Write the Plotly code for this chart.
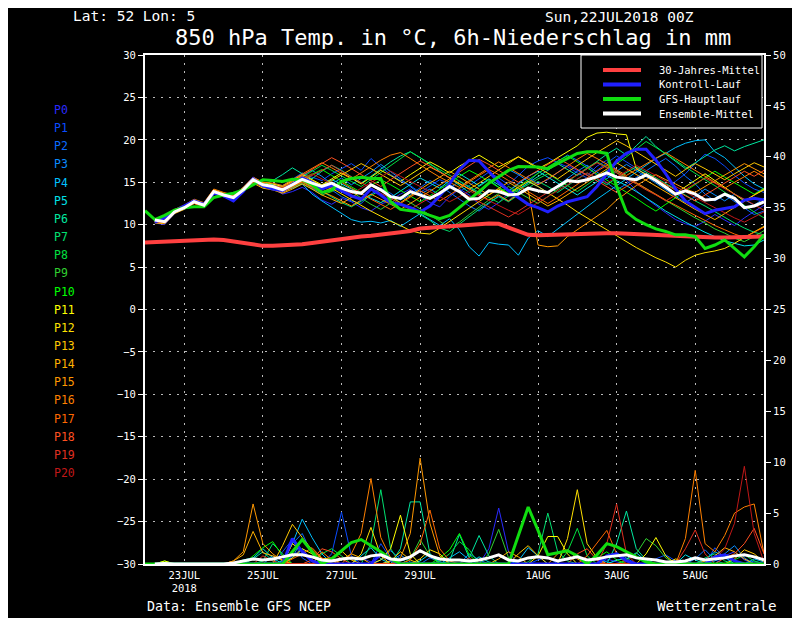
import pandas as pd
import plotly.graph_objects as go

"""
GFS ensemble plume, 850 hPa temperature + 6h precipitation, Lat 52 Lon 5, run 22JUL2018 00Z
"""

# time axis: GFS main run + climate start at 0h, ensemble members start at +6h
t_all = pd.date_range('2018-07-22 00:00', periods=64, freq='6h')
t_ens = t_all[1:]

member_names = ['P%d' % k for k in range(21)]
member_colors = ['#2a2aff', '#0a4cff', '#0a6cff', '#0a8cff', '#00c0ff', '#00e0e8', '#00e8a0',
                 '#00e070', '#00e040', '#30d030', '#00ff00', '#ffff00', '#ffe000', '#ffc800',
                 '#ffb000', '#ff9800', '#ff8000', '#ff6800', '#ff5020', '#e03020', '#c01818']

# 30-Jahres-Mittel (0h..378h)
clim_temp = [7.9, 7.95, 8.0, 8.05, 8.15, 8.2, 8.25, 8.25, 8.2, 8.0,
             7.8, 7.6, 7.5, 7.5, 7.55, 7.6, 7.7, 7.85, 8.0, 8.2,
             8.4, 8.5, 8.6, 8.7, 8.8, 8.95, 9.1, 9.25, 9.55, 9.65,
             9.75, 9.8, 9.9, 10.0, 10.1, 10.15, 10.1, 9.7, 9.2, 8.8,
             8.75, 8.8, 8.85, 8.9, 8.95, 9.0, 9.0, 9.0, 9.0, 8.95,
             8.9, 8.85, 8.8, 8.7, 8.6, 8.55, 8.5, 8.5, 8.5, 8.5,
             8.5, 8.55, 8.6, 8.6]

# GFS-Hauptlauf (0h..378h)
gfs_temp = [11.65, 10.6, 11.1, 11.7, 12.0, 12.1, 12.1, 13.2, 13.5, 13.7,
            14.1, 14.7, 15.3, 15.2, 15.1, 15.35, 15.3, 14.7, 13.8, 14.1,
            15.1, 15.45, 15.6, 15.45, 15.45, 12.7, 11.8, 11.65, 11.5, 11.1,
            10.7, 11.1, 12.0, 12.9, 13.9, 14.9, 15.6, 16.4, 16.85, 16.85,
            16.8, 16.6, 17.2, 17.8, 18.4, 18.6, 18.6, 18.4, 14.5, 11.5,
            10.6, 10.0, 9.5, 9.2, 8.8, 8.8, 8.6, 7.2, 7.6, 8.2,
            7.2, 6.2, 7.4, 8.8]
gfs_prec = [0, 0, 0, 0, 0, 0, 0, 0, 0, 0,
            0, 0, 0, 0, 0, 1.2, 2.4, 1.2, 0, 0.5,
            1.3, 2.1, 2.4, 1.8, 1.2, 0.5, 0, 0, 0, 0,
            0, 0, 0, 0, 0, 0, 0, 0, 2.8, 5.6,
            3.3, 0.9, 1.1, 1.3, 0.8, 0, 0.9, 2.0, 1.7, 1.2,
            0.7, 0.2, 0, 0, 0, 0, 0, 0, 0, 0,
            0, 0, 0, 0]

# Kontroll-Lauf (6h..378h)
ctrl_temp = [10.3, 10.8, 11.6, 12.2, 12.8, 12.4, 13.7, 13.4, 12.8, 13.9,
             15.4, 14.6, 14.2, 14.0, 14.8, 15.5, 15.0, 14.2, 14.6, 14.0,
             13.4, 13.0, 14.2, 13.5, 12.6, 12.4, 12.0, 11.5, 12.2, 13.4,
             14.8, 16.5, 17.6, 17.5, 16.2, 15.0, 14.0, 13.2, 12.4, 12.0,
             11.5, 12.2, 12.7, 13.0, 13.3, 14.5, 16.0, 17.5, 18.4, 18.9,
             18.9, 17.6, 16.0, 14.2, 12.8, 12.0, 11.3, 11.7, 11.9, 12.1,
             12.9, 13.1, 12.9]
ctrl_prec = [0, 0, 0, 0, 0, 0, 0, 0, 0, 0,
             0, 0, 0, 0, 2.5, 1.2, 0.3, 0, 0, 0,
             0, 0, 0, 1.0, 0.4, 0, 0, 0, 0, 0,
             0, 0, 0, 0, 0, 0, 0, 0, 0, 0,
             0, 0, 0, 0, 0, 0, 0.8, 1.0, 0.3, 0,
             0, 0, 0, 0, 0, 0, 0, 0.7, 0.9, 0.3,
             0, 0, 0]

# Ensemble-Mittel (6h..378h)
mean_temp = [10.55, 10.35, 11.5, 12.0, 12.7, 12.3, 13.9, 13.5, 13.2, 14.1,
             15.3, 14.7, 14.5, 14.1, 14.7, 15.35, 14.9, 14.5, 14.9, 14.3,
             13.9, 13.7, 14.7, 14.1, 13.3, 13.1, 13.9, 13.5, 13.1, 13.7,
             14.5, 13.9, 13.0, 13.1, 14.0, 13.9, 13.5, 13.6, 14.3, 14.0,
             13.8, 14.5, 15.2, 15.05, 15.3, 15.65, 16.1, 15.6, 15.45, 15.3,
             15.85, 15.2, 14.4, 13.6, 14.0, 13.6, 12.9, 13.0, 13.6, 13.1,
             12.0, 12.2, 12.7]
mean_prec = [0, 0.05, 0, 0, 0, 0, 0, 0, 0.1, 0.3,
             0.5, 0.4, 0.5, 0.7, 0.9, 0.9, 0.7, 0.4, 0.3, 0.5,
             0.6, 0.5, 0.8, 0.9, 0.5, 0.4, 0.7, 1.3, 0.8, 0.5,
             0.4, 0.4, 0.3, 0.4, 0.6, 0.9, 0.4, 0.3, 0.6, 0.7,
             0.6, 0.3, 0.5, 0.7, 0.4, 0.5, 0.7, 0.8, 0.9, 0.6,
             0.5, 0.4, 0.2, 0.2, 0.3, 0.6, 0.4, 0.5, 0.6, 0.8,
             0.9, 0.7, 0.4]

# perturbed members P0..P20, 850 hPa temperature (6h..378h)
p0_temp = [10.2, 10.0, 11.3, 12.1, 12.9, 12.2, 13.8, 13.6, 13.5, 14.4,
           15.6, 14.9, 14.3, 13.6, 13.9, 14.4, 13.8, 12.9, 12.4, 13.1,
           12.7, 12.0, 11.6, 12.4, 12.9, 13.6, 14.2, 13.4, 12.6, 12.1,
           13.3, 14.2, 13.5, 12.4, 11.8, 12.6, 13.7, 14.9, 15.6, 14.8,
           15.3, 16.2, 17.0, 16.4, 15.8, 16.9, 17.6, 16.5, 15.2, 14.0,
           13.1, 12.2, 11.4, 10.6, 10.1, 9.8, 10.4, 11.2, 10.5, 9.9,
           10.8, 11.6, 12.3]
p1_temp = [10.4, 10.3, 11.6, 11.9, 12.5, 12.4, 14.1, 13.3, 13.0, 14.0,
           15.1, 14.5, 14.8, 14.6, 15.3, 16.1, 15.6, 15.2, 16.0, 16.6,
           17.2, 16.4, 17.8, 16.8, 15.9, 15.2, 14.6, 13.8, 14.5, 15.3,
           14.8, 13.9, 14.6, 15.4, 16.2, 15.5, 14.7, 15.8, 16.9, 17.5,
           17.9, 17.3, 16.8, 16.1, 15.5, 16.4, 17.2, 18.1, 17.4, 16.6,
           15.9, 15.2, 14.3, 15.1, 16.0, 17.2, 18.3, 17.8, 16.9, 15.8,
           14.9, 14.2, 13.8]
p2_temp = [10.6, 10.5, 11.4, 12.2, 12.8, 12.1, 13.7, 13.7, 13.3, 14.2,
           15.2, 14.4, 14.2, 13.8, 14.5, 15.1, 14.3, 13.7, 14.1, 13.3,
           12.8, 12.5, 13.6, 14.3, 13.7, 12.9, 13.5, 14.4, 15.2, 14.6,
           13.8, 13.1, 12.2, 11.6, 12.5, 13.4, 12.8, 13.9, 15.0, 16.1,
           16.7, 17.4, 18.2, 17.6, 16.9, 15.8, 14.9, 14.1, 14.8, 15.6,
           16.4, 17.1, 17.8, 16.9, 15.7, 14.8, 13.6, 12.8, 13.5, 12.7,
           11.9, 11.2, 11.6]
p3_temp = [10.5, 10.4, 11.7, 12.0, 12.6, 12.5, 14.0, 13.4, 13.1, 14.0,
           15.4, 14.8, 14.6, 14.2, 15.0, 15.8, 16.4, 15.7, 14.8, 15.5,
           14.7, 15.4, 16.2, 17.1, 16.3, 15.4, 14.5, 13.6, 14.2, 13.5,
           14.3, 15.1, 14.4, 13.6, 14.8, 15.7, 16.5, 15.9, 15.1, 14.5,
           13.8, 14.6, 15.5, 16.3, 17.0, 16.2, 15.4, 16.3, 17.1, 16.4,
           15.7, 14.9, 14.1, 13.4, 12.6, 13.3, 14.2, 13.5, 12.8, 13.6,
           12.9, 12.3, 13.1]
p4_temp = [10.7, 10.2, 11.5, 12.1, 12.7, 12.4, 13.9, 13.5, 13.4, 14.3,
           15.5, 14.6, 14.4, 14.0, 14.3, 14.8, 13.6, 12.8, 12.1, 11.4,
           10.6, 10.3, 10.4, 10.2, 10.5, 9.8, 10.6, 11.3, 10.6, 9.9,
           10.7, 9.4, 7.4, 6.3, 7.9, 7.7, 7.6, 6.4, 8.4, 9.3,
           8.6, 9.5, 10.4, 11.2, 12.1, 13.0, 13.8, 14.6, 15.3, 16.2,
           17.0, 17.8, 18.4, 19.1, 19.6, 19.9, 20.0, 18.6, 17.9, 16.8,
           15.7, 14.8, 14.2]
p5_temp = [10.3, 10.4, 11.6, 11.8, 12.6, 12.3, 13.8, 13.4, 13.0, 14.0,
           15.2, 14.8, 14.7, 14.3, 15.1, 15.6, 15.1, 14.6, 15.3, 14.8,
           14.2, 13.7, 13.1, 12.6, 13.2, 14.0, 14.8, 15.5, 14.9, 14.3,
           15.2, 16.0, 15.3, 14.6, 15.4, 14.7, 14.0, 14.8, 15.7, 16.3,
           15.6, 14.9, 14.2, 13.5, 14.3, 15.1, 15.8, 15.2, 14.6, 13.9,
           13.2, 12.4, 11.6, 10.9, 10.3, 9.7, 9.1, 8.6, 8.1, 7.8,
           7.5, 7.6, 8.2]
p6_temp = [10.6, 10.6, 11.4, 12.1, 12.8, 12.4, 14.0, 13.6, 13.3, 14.2,
           15.3, 14.6, 15.2, 15.9, 16.7, 16.0, 15.4, 16.3, 17.0, 16.4,
           15.6, 14.9, 15.7, 16.6, 17.4, 18.1, 18.6, 17.9, 17.2, 16.3,
           15.5, 14.6, 13.8, 14.5, 15.3, 14.4, 13.6, 14.2, 14.9, 15.6,
           16.4, 17.2, 16.5, 15.8, 16.6, 17.5, 18.3, 19.0, 18.2, 19.3,
           20.4, 19.2, 18.3, 17.4, 16.6, 17.3, 18.1, 18.8, 19.3, 18.7,
           19.2, 19.6, 20.0]
p7_temp = [10.4, 10.5, 11.5, 12.0, 12.6, 12.2, 13.8, 13.5, 13.3, 14.1,
           15.1, 14.7, 14.3, 13.9, 14.6, 15.2, 14.6, 13.9, 13.3, 12.6,
           12.1, 12.8, 13.5, 14.1, 13.4, 12.5, 11.8, 11.2, 10.5, 9.6,
           9.2, 10.1, 11.0, 11.8, 12.6, 13.3, 12.7, 13.5, 14.3, 15.1,
           14.5, 13.8, 14.6, 15.4, 16.1, 15.4, 14.7, 15.5, 16.2, 16.8,
           16.2, 15.5, 14.8, 14.1, 13.5, 12.8, 12.2, 11.5, 10.9, 10.2,
           9.6, 9.1, 8.8]
p8_temp = [10.5, 10.3, 11.6, 12.1, 12.7, 12.3, 13.9, 13.6, 13.2, 14.0,
           15.2, 14.6, 14.5, 14.4, 15.0, 15.6, 16.3, 17.0, 16.4, 15.7,
           15.1, 14.5, 15.3, 16.2, 17.0, 17.8, 18.6, 17.9, 17.1, 16.5,
           15.8, 15.1, 14.5, 13.8, 13.2, 12.6, 13.4, 14.1, 14.8, 15.4,
           16.0, 15.3, 14.6, 13.9, 14.7, 15.5, 16.3, 17.2, 18.0, 18.9,
           19.8, 19.1, 18.4, 17.6, 16.8, 16.0, 15.3, 14.6, 13.8, 13.0,
           12.2, 11.5, 10.8]
p9_temp = [10.6, 10.4, 11.4, 11.9, 12.6, 12.4, 13.7, 13.4, 13.1, 14.0,
           15.3, 14.9, 14.6, 14.2, 14.4, 14.9, 14.2, 13.5, 13.9, 14.6,
           13.9, 13.1, 12.4, 11.8, 12.5, 13.3, 12.6, 11.9, 11.2, 10.4,
           9.6, 10.3, 11.2, 12.1, 12.9, 13.7, 14.5, 13.8, 13.1, 12.5,
           13.3, 14.2, 15.0, 15.9, 16.7, 17.4, 16.8, 16.1, 15.5, 14.9,
           14.2, 13.5, 12.8, 12.2, 11.5, 10.8, 10.2, 9.5, 9.0, 8.4,
           8.0, 8.6, 9.3]
p10_temp = [10.5, 10.5, 11.5, 12.0, 12.8, 12.4, 13.9, 13.5, 13.2, 14.2,
            15.4, 14.7, 14.4, 14.0, 14.8, 15.4, 15.9, 16.5, 15.8, 15.1,
            14.4, 13.8, 14.6, 15.3, 14.7, 14.0, 13.3, 12.7, 13.4, 14.2,
            15.0, 15.7, 16.4, 15.8, 15.1, 14.4, 13.7, 14.5, 15.3, 16.0,
            16.8, 17.5, 18.1, 17.4, 16.7, 16.0, 15.2, 14.5, 13.8, 13.1,
            12.3, 11.6, 12.4, 13.2, 14.0, 14.8, 15.6, 16.3, 15.6, 14.9,
            14.2, 13.6, 14.3]
p11_temp = [10.4, 10.6, 11.7, 12.2, 12.9, 12.5, 14.1, 13.7, 13.4, 14.3,
            15.5, 15.0, 14.8, 14.5, 15.2, 15.9, 15.3, 14.7, 15.4, 16.1,
            15.5, 14.8, 15.6, 16.4, 15.8, 15.1, 15.9, 16.7, 17.4, 16.8,
            16.1, 16.9, 17.6, 18.2, 17.5, 16.8, 17.4, 18.0, 17.3, 16.6,
            17.2, 17.9, 18.6, 19.3, 20.3, 20.8, 20.9, 20.7, 20.6, 16.6,
            15.9, 15.2, 14.6, 13.7, 14.5, 15.3, 16.0, 15.2, 14.4, 13.6,
            12.8, 13.5, 14.1]
p12_temp = [10.3, 10.2, 11.4, 12.0, 12.6, 12.2, 13.8, 13.4, 13.1, 14.0,
            15.1, 14.5, 14.3, 14.0, 14.6, 15.2, 14.5, 13.8, 14.3, 13.6,
            12.9, 12.3, 11.6, 11.0, 10.4, 9.9, 9.3, 9.0, 8.9, 9.6,
            10.4, 11.2, 12.0, 12.8, 13.5, 14.2, 13.6, 14.4, 15.1, 14.5,
            13.8, 13.0, 12.3, 11.5, 10.8, 10.1, 9.4, 8.7, 8.1, 7.3,
            6.7, 6.1, 5.6, 5.0, 5.8, 6.4, 6.7, 6.9, 7.2, 7.8,
            8.5, 9.2, 9.8]
p13_temp = [10.6, 10.4, 11.6, 12.1, 12.7, 12.3, 13.9, 13.5, 13.3, 14.1,
            15.3, 14.7, 14.6, 14.3, 15.0, 15.7, 15.2, 14.6, 15.2, 15.9,
            16.5, 17.2, 16.6, 15.9, 15.2, 14.6, 15.3, 16.1, 16.8, 16.2,
            15.5, 14.8, 14.2, 14.9, 15.7, 16.5, 17.3, 18.0, 17.4, 16.7,
            16.0, 15.4, 16.2, 17.0, 17.8, 18.5, 19.2, 19.9, 19.3, 18.6,
            17.8, 17.1, 16.4, 15.7, 16.5, 17.2, 16.6, 15.9, 15.3, 16.0,
            16.7, 17.3, 16.8]
p14_temp = [10.2, 10.1, 11.3, 11.8, 12.5, 12.1, 13.6, 13.3, 12.9, 13.8,
            14.9, 14.3, 14.1, 13.7, 14.2, 14.8, 14.2, 13.5, 13.0, 12.5,
            13.2, 13.9, 14.6, 14.0, 13.3, 12.6, 13.4, 14.2, 14.9, 15.6,
            16.3, 15.6, 14.9, 14.2, 13.5, 14.3, 15.0, 14.3, 13.6, 12.9,
            12.2, 12.8, 13.5, 14.3, 15.0, 15.8, 16.5, 17.3, 16.6, 15.9,
            15.2, 14.5, 13.8, 13.2, 12.5, 11.8, 11.2, 10.6, 11.3, 12.0,
            12.7, 13.5, 14.2]
p15_temp = [10.5, 10.3, 11.5, 12.0, 12.6, 12.2, 13.8, 13.4, 13.1, 14.0,
            15.2, 14.6, 14.2, 13.8, 14.4, 15.1, 14.5, 13.9, 13.4, 12.8,
            12.2, 12.9, 13.6, 13.0, 12.4, 11.8, 12.5, 13.2, 14.0, 14.7,
            15.4, 14.8, 14.2, 13.6, 12.9, 13.5, 12.8, 13.6, 14.1, 7.6,
            7.4, 7.5, 8.6, 9.4, 10.2, 10.9, 11.8, 12.9, 13.8, 14.6,
            15.3, 15.9, 15.3, 14.8, 14.2, 13.8, 14.5, 15.2, 15.9, 16.6,
            17.2, 16.6, 16.0]
p16_temp = [10.7, 10.5, 11.8, 12.3, 13.0, 12.6, 14.2, 13.8, 13.5, 14.4,
            15.6, 15.0, 14.9, 14.6, 15.3, 16.0, 16.6, 17.3, 16.7, 16.0,
            15.4, 16.1, 16.9, 17.6, 18.2, 18.5, 17.8, 17.0, 16.3, 15.6,
            15.0, 14.4, 15.2, 16.0, 16.7, 17.4, 16.7, 16.0, 15.3, 14.7,
            15.4, 16.1, 16.9, 17.7, 18.4, 17.8, 17.1, 16.4, 15.8, 16.5,
            17.2, 17.9, 18.5, 17.8, 17.1, 16.4, 15.7, 15.0, 14.3, 15.0,
            15.7, 16.3, 15.6]
p17_temp = [10.4, 10.2, 11.4, 11.9, 12.5, 12.1, 13.7, 13.4, 13.0, 13.9,
            15.0, 14.5, 14.3, 13.9, 14.5, 15.0, 14.4, 13.8, 14.4, 15.0,
            14.3, 13.6, 13.0, 12.4, 11.8, 12.5, 13.3, 14.0, 13.4, 12.8,
            13.5, 14.3, 15.0, 15.8, 16.5, 15.9, 15.2, 14.6, 13.9, 13.2,
            12.5, 13.2, 14.0, 14.8, 15.5, 16.3, 17.0, 16.3, 15.6, 14.9,
            14.2, 13.6, 12.9, 12.3, 11.7, 11.1, 10.5, 9.9, 9.4, 8.9,
            8.5, 9.1, 9.7]
p18_temp = [10.6, 10.6, 11.6, 12.1, 12.8, 12.5, 14.0, 13.6, 13.4, 14.2,
            15.4, 14.8, 14.6, 14.4, 15.1, 15.8, 16.5, 17.2, 17.9, 17.3,
            16.6, 15.9, 15.2, 14.5, 15.3, 16.0, 16.8, 17.5, 16.9, 16.2,
            15.5, 16.2, 17.0, 17.7, 17.1, 16.4, 15.7, 15.0, 15.7, 16.4,
            17.1, 17.8, 17.2, 16.5, 15.8, 15.1, 14.4, 13.8, 14.5, 15.3,
            16.0, 15.4, 14.7, 14.1, 13.4, 12.8, 13.5, 14.2, 14.9, 15.6,
            16.3, 15.7, 16.4]
p19_temp = [10.3, 10.3, 11.5, 12.0, 12.7, 12.3, 13.9, 13.5, 13.2, 14.1,
            15.3, 14.7, 14.5, 14.1, 14.7, 15.3, 15.8, 16.4, 17.0, 16.3,
            15.6, 15.0, 14.3, 13.7, 13.1, 12.4, 11.8, 12.5, 13.2, 13.9,
            14.5, 13.9, 13.3, 12.7, 12.1, 11.5, 10.9, 11.6, 12.4, 13.1,
            13.8, 14.5, 15.2, 15.9, 16.6, 17.3, 16.7, 16.1, 15.4, 14.8,
            14.1, 13.5, 12.8, 13.5, 14.2, 14.9, 15.5, 14.9, 14.2, 13.6,
            13.0, 12.3, 11.7]
p20_temp = [10.5, 10.4, 11.5, 12.1, 12.8, 12.4, 14.0, 13.6, 13.3, 14.2,
            15.4, 14.8, 14.6, 14.3, 14.9, 15.5, 16.0, 15.4, 14.8, 14.2,
            13.6, 14.3, 15.0, 15.6, 16.3, 15.7, 15.1, 14.5, 13.9, 13.3,
            12.7, 13.3, 14.0, 13.4, 12.8, 12.2, 11.7, 11.2, 11.9, 12.6,
            13.3, 14.0, 14.7, 15.4, 16.1, 15.5, 14.9, 15.6, 16.3, 17.0,
            16.4, 15.8, 15.1, 14.5, 13.9, 13.2, 12.6, 12.0, 11.4, 10.8,
            10.3, 10.9, 11.5]

# perturbed members P0..P20, 6h precipitation in mm (6h..378h)
p0_prec = [0, 0, 0, 0, 0, 0, 0, 0, 0, 0,
           0, 0, 0, 0, 0.8, 1.5, 0.4, 0, 0, 0,
           0, 0.6, 0.2, 0, 0, 0, 0, 0, 0, 0,
           0, 0, 0, 0, 1.5, 5.5, 1.2, 0, 0, 0,
           0, 0, 0, 0, 0, 0, 0.5, 0.2, 0, 0,
           0, 0, 0, 0, 0, 0, 0, 0, 0.8, 1.2,
           0.4, 0, 0]
p1_prec = [0, 0, 0, 0, 0, 0, 0, 0, 0, 0,
           0, 0, 0, 1.2, 2.4, 0.6, 0, 0, 1.0, 5.1,
           0.8, 0, 0, 2.0, 0.5, 0, 0, 0, 0, 0,
           0, 0, 0, 0, 0, 0, 0, 0, 0, 0.4,
           0.7, 0, 0, 0, 0, 0, 0, 0, 0, 0,
           0, 0.5, 0.9, 0.3, 0, 0, 0, 1.6, 0.6, 0,
           0, 0, 0]
p2_prec = [0, 0, 0, 0, 0, 0, 0, 0, 0, 0,
           0, 0, 0, 0, 2.0, 3.0, 1.0, 0.3, 0, 0,
           0, 0, 0, 0.4, 1.3, 0.5, 0, 0, 0.6, 0.2,
           0, 0, 0, 0, 0, 0, 0, 0, 0, 0,
           0, 0, 0, 0, 0, 0, 0.3, 1.1, 0.6, 0,
           0, 0, 0, 0, 0, 0.5, 1.4, 0.4, 0, 0,
           0, 0.3, 0]
p3_prec = [0, 0, 0, 0, 0, 0, 0, 0, 0, 0,
           0, 0, 0.8, 0.3, 0.6, 2.5, 1.2, 0, 0, 0,
           0, 0, 0, 0, 0.3, 0.9, 0.2, 0, 0, 0,
           0, 0, 1.0, 0.4, 0, 0, 0, 0, 0, 0,
           0, 0, 0, 0, 0, 0.7, 0.2, 0, 0, 0,
           0, 0, 0, 0, 0, 0, 0, 0.3, 1.0, 1.8,
           0.6, 0, 0]
p4_prec = [0, 0, 0, 0, 0, 0, 0, 0, 0, 0,
           0, 0, 0, 0.3, 2.0, 4.4, 2.6, 1.0, 0, 0,
           0, 0, 0, 0, 0, 0, 0, 0, 0, 0,
           0.6, 1.2, 0.4, 0, 0, 0, 0, 0.3, 1.6, 0.8,
           0, 0, 0, 0, 0, 0, 0, 0, 0, 0,
           0, 0, 0, 0, 0, 0, 0.4, 1.2, 0.7, 0,
           0, 0.5, 0.2]
p5_prec = [0, 0, 0, 0, 0, 0, 0, 0, 0, 0.4,
           0.6, 1.5, 0.6, 0, 0, 0, 0, 0, 0, 0,
           0, 0.8, 1.6, 0.5, 0, 0, 0, 0.3, 1.0, 0.2,
           0, 0, 0, 0.7, 0.2, 0, 0, 0, 0, 0,
           0, 0, 0, 0, 0, 0, 0, 0.4, 0.5, 1.1,
           0.3, 0, 0, 0, 0.9, 0.4, 0, 0, 0, 0,
           0, 0, 0]
p6_prec = [0, 0, 0, 0, 0, 0, 0, 0, 0, 0,
           0.5, 1.2, 0.3, 0, 0, 0, 0, 0, 0, 0,
           0, 0, 0, 0, 0, 1.5, 6.1, 6.1, 1.0, 0,
           0.3, 2.9, 0.6, 2.8, 0.8, 0, 0, 0, 0, 0,
           0, 0, 0, 0, 0, 0, 0, 2.0, 5.2, 1.5,
           0.4, 0, 0, 0, 0, 0, 0, 0, 0, 0,
           0, 0, 0]
p7_prec = [0, 0, 0, 0, 0, 0, 0, 0, 0, 0,
           0, 0.3, 2.0, 1.0, 0, 0, 0, 0, 0, 0,
           0, 0, 2.0, 7.3, 1.5, 0, 0, 0, 0, 0,
           0, 0, 0, 0, 0, 0, 0, 0, 0.2, 1.0,
           5.0, 1.2, 0.3, 0, 0, 0, 0, 0, 0, 0,
           0, 0, 0, 0, 0, 0, 0.6, 1.0, 0.3, 0,
           0, 0, 0]
p8_prec = [0, 0, 0, 0, 0, 0, 0, 0, 0, 0,
           0, 0, 0, 0, 0, 0, 0, 1.0, 1.5, 0.8,
           0, 0, 0, 0, 0, 0, 0, 0, 0, 0.3,
           1.0, 2.2, 1.4, 0, 0, 0, 0, 0, 0, 0,
           0, 0, 1.2, 3.5, 0.8, 0, 0, 0, 0, 0,
           0, 0, 0, 0, 0, 0, 0, 0, 0, 0.4,
           0.9, 0.3, 0]
p9_prec = [0, 0, 0, 0, 0, 0, 0, 0, 0, 0,
           0, 0, 0, 0, 0, 0, 0, 0, 0, 0,
           0, 0, 0, 0, 0, 0, 0.5, 2.4, 0.8, 0,
           0, 0, 0, 0, 1.0, 3.4, 0.6, 0, 0, 0,
           0, 0, 0, 0, 0, 0, 0, 0, 0.4, 1.0,
           2.5, 1.8, 0.6, 0, 0, 0, 0, 0, 0, 0,
           0, 0, 0]
p10_prec = [0, 0.3, 0, 0, 0, 0, 0, 0, 0, 0,
            0.8, 1.6, 2.2, 0.8, 0, 0, 0, 0, 0, 0,
            0, 0, 0, 0, 0, 0, 0, 0, 0, 0.6,
            1.4, 3.0, 0.9, 0, 0, 0, 0, 0, 0, 0,
            0, 0, 0, 0, 0, 0.6, 1.2, 0.4, 0, 0,
            0, 0, 0, 0, 0, 0, 0, 0, 0, 0,
            0, 0, 0]
p11_prec = [0, 0.3, 0, 0, 0, 0, 0, 0, 0, 0,
            0, 0, 0, 0, 0.6, 1.5, 1.0, 0.4, 0, 0,
            0, 0, 0, 0.4, 1.5, 4.8, 1.0, 0, 0, 0,
            0, 0, 0, 0, 0, 0, 0, 0, 0, 0.8,
            2.7, 2.7, 1.0, 0, 0, 0, 0, 0, 0, 0,
            1.0, 2.6, 0.8, 0, 0, 0, 0, 0, 0, 0,
            0, 0, 0]
p12_prec = [0, 0, 0, 0, 0, 0, 0, 0, 0, 0,
            0, 0, 0, 0, 2.0, 1.2, 0.3, 0, 0, 0,
            0, 1.0, 3.6, 0.8, 0, 0, 0, 0.5, 1.4, 1.0,
            0, 0, 0, 0, 0, 0, 0, 0, 0, 0,
            0, 0, 2.5, 7.3, 2.0, 0.6, 0, 0, 0, 0,
            0, 0, 0, 0.5, 0.2, 0, 0, 0, 0, 0,
            0, 0, 0]
p13_prec = [0, 0, 0, 0, 0, 0, 0, 0, 0, 0,
            0, 0, 0, 1.8, 3.9, 2.6, 1.4, 0.5, 0.6, 1.3,
            0.4, 0, 0, 0, 0.3, 1.2, 0.4, 0, 0, 0,
            0, 0, 0, 0, 0, 0, 0, 1.0, 1.8, 0.8,
            0, 0, 0, 0, 0, 0, 0, 0, 0, 0,
            0, 0, 0, 0, 0, 0, 0, 0, 0, 0.5,
            1.4, 1.0, 0.2]
p14_prec = [0, 0, 0, 0, 0, 0, 0, 0, 0.3, 0.9,
            3.2, 1.1, 0.8, 0.4, 0, 0, 0, 0, 0, 0.4,
            1.0, 0.6, 0, 0, 0, 0, 0, 0, 0, 0,
            0, 0, 0, 0, 0, 0.5, 1.2, 0.7, 0, 0,
            0, 0, 0, 0, 0, 0, 0, 0, 0, 0,
            0, 0, 0, 0, 0, 0, 0.3, 0.8, 1.6, 1.2,
            0.5, 0, 0]
p15_prec = [0, 0, 0, 0, 0, 0, 0, 0, 0.3, 1.2,
            5.9, 2.0, 1.0, 0.3, 0, 0, 0, 0, 0, 0,
            0, 0, 0, 0, 0, 0.6, 3.0, 10.4, 4.0, 0.8,
            0, 0, 0, 0, 0, 0, 0, 0, 0, 0,
            0, 1.0, 1.4, 0.5, 0, 0, 0, 0, 0, 0,
            0, 0, 0, 0, 0, 0, 0, 0, 0, 0,
            0, 0, 0]
p16_prec = [0, 0, 0, 0, 0, 0, 0, 0, 0, 0,
            0, 0, 0, 0, 0, 0, 0, 1.2, 0.4, 0,
            1.0, 3.0, 8.4, 2.6, 0.6, 0, 0, 0, 0, 0,
            0, 0, 0, 0, 0, 0, 0, 0, 0, 0,
            0, 0, 0, 0, 0, 0, 0, 0, 0, 0,
            0, 0, 0, 0, 2.5, 9.2, 2.0, 1.2, 2.8, 5.0,
            5.6, 5.9, 1.0]
p17_prec = [0, 0, 0, 0, 0, 0, 0, 0, 0, 0,
            0, 0, 0, 0, 0.5, 1.0, 1.6, 0.6, 0, 0,
            0, 0, 0, 0, 0, 0, 0.4, 2.0, 5.3, 1.5,
            0.3, 0, 0, 0, 0, 0, 0, 0, 0, 0,
            0, 0, 0, 0, 0.8, 2.0, 3.3, 1.0, 0, 0,
            0, 0, 0, 0, 0, 0, 0, 0, 0, 0,
            0, 0, 0]
p18_prec = [0, 0, 0, 0, 0, 0, 0, 0, 0, 0,
            0, 0, 0, 0, 0, 0, 0.4, 1.5, 1.2, 0.5,
            0, 0, 0, 0, 0, 0, 0, 0, 0, 0,
            0, 0, 0, 0, 0, 0, 0, 0, 0, 0,
            0, 0, 0, 1.0, 1.5, 0.4, 0, 0, 0, 0,
            0, 0, 0, 0, 0, 0, 0, 0, 0.6, 1.0,
            2.0, 3.5, 1.0]
p19_prec = [0, 0, 0, 0, 0, 0, 0, 0, 0, 0,
            0, 0.8, 0.3, 0, 0, 0, 0, 0, 0, 0,
            0, 0, 0, 0, 0, 0, 0, 0, 0, 0,
            0, 0, 0.6, 0, 0, 0, 0, 0, 0, 0,
            0, 0, 0, 0, 0, 0, 2.0, 5.9, 1.0, 0,
            0, 0, 0, 0, 1.5, 3.35, 1.0, 0, 0, 0,
            0, 0, 0]
p20_prec = [0, 0, 0, 0, 0, 0, 0, 0, 0, 0,
            0, 0, 0, 0, 0, 0, 0, 0, 0, 0,
            0, 0, 0, 0.8, 0.5, 0, 0, 0, 0, 0,
            0, 0, 0, 0, 0, 0, 0, 0, 0, 0,
            0, 0, 0, 0, 0, 0, 0, 0, 0, 0,
            0, 0, 0, 0, 0, 0, 0, 0.5, 1.5, 4.0,
            9.6, 3.0, 0.2]

member_temp = [p0_temp, p1_temp, p2_temp, p3_temp, p4_temp, p5_temp, p6_temp, p7_temp,
               p8_temp, p9_temp, p10_temp, p11_temp, p12_temp, p13_temp, p14_temp,
               p15_temp, p16_temp, p17_temp, p18_temp, p19_temp, p20_temp]
member_prec = [p0_prec, p1_prec, p2_prec, p3_prec, p4_prec, p5_prec, p6_prec, p7_prec,
               p8_prec, p9_prec, p10_prec, p11_prec, p12_prec, p13_prec, p14_prec,
               p15_prec, p16_prec, p17_prec, p18_prec, p19_prec, p20_prec]

tick_dates = ['2018-07-23', '2018-07-25', '2018-07-27', '2018-07-29',
              '2018-08-01', '2018-08-03', '2018-08-05']
tick_text = ['23JUL<br>2018', '25JUL', '27JUL', '29JUL', '1AUG', '3AUG', '5AUG']

legend_names = ['30-Jahres-Mittel', 'Kontroll-Lauf', 'GFS-Hauptlauf', 'Ensemble-Mittel']
legend_colors = ['#ff4040', '#2020ff', '#10dd10', 'white']

FONT = 'DejaVu Sans Mono'

# page is shifted by the 8px body margin, so the figure is drawn 8px smaller
OFF = 8
W, H = 800 - OFF, 618 - OFF
# plot box in page pixels
L, R, T, B = 145, 764, 55, 564
def px(x):
    return (x - L) / (R - L)
def py(y):
    return (B - y) / (B - T)

fig = go.Figure()

# members: precipitation first, then temperature
for k in range(21):
    fig.add_trace(go.Scatter(x=t_ens, y=member_prec[k], yaxis='y2', mode='lines',
                             line=dict(color=member_colors[k], width=1), showlegend=False,
                             name=member_names[k]))
for k in range(21):
    fig.add_trace(go.Scatter(x=t_ens, y=member_temp[k], mode='lines',
                             line=dict(color=member_colors[k], width=1), showlegend=False,
                             name=member_names[k]))

# main lines
fig.add_trace(go.Scatter(x=t_ens, y=ctrl_prec, yaxis='y2', mode='lines',
                         line=dict(color='#2020ff', width=3), showlegend=False))
fig.add_trace(go.Scatter(x=t_all, y=gfs_prec, yaxis='y2', mode='lines',
                         line=dict(color='#10dd10', width=3), showlegend=False))
fig.add_trace(go.Scatter(x=t_ens, y=mean_prec, yaxis='y2', mode='lines',
                         line=dict(color='white', width=3), showlegend=False))

fig.add_trace(go.Scatter(x=t_all, y=clim_temp, mode='lines', name=legend_names[0],
                         line=dict(color=legend_colors[0], width=4), showlegend=False))
fig.add_trace(go.Scatter(x=t_ens, y=ctrl_temp, mode='lines', name=legend_names[1],
                         line=dict(color=legend_colors[1], width=3), showlegend=False))
fig.add_trace(go.Scatter(x=t_all, y=gfs_temp, mode='lines', name=legend_names[2],
                         line=dict(color=legend_colors[2], width=3), showlegend=False))
fig.add_trace(go.Scatter(x=t_ens, y=mean_temp, mode='lines', name=legend_names[3],
                         line=dict(color=legend_colors[3], width=3), showlegend=False))

annotations = [
    dict(text='850 hPa Temp. in °C, 6h-Niederschlag in mm', x=px(453), y=py(38),
         xanchor='center', yanchor='middle', font=dict(size=22, color='white')),
    dict(text='Lat: 52 Lon: 5', x=px(71), y=py(16.5), xanchor='left', yanchor='middle',
         font=dict(size=14.5, color='white')),
    dict(text='Sun,22JUL2018 00Z', x=px(543), y=py(17), xanchor='left', yanchor='middle',
         font=dict(size=14.5, color='white')),
    dict(text='Data: Ensemble GFS NCEP', x=px(145), y=py(606), xanchor='left',
         yanchor='middle', font=dict(size=13.3, color='white')),
    dict(text='Wetterzentrale', x=px(779), y=py(606), xanchor='right', yanchor='middle',
         font=dict(size=14.2, color='white')),
]
for k in range(21):
    annotations.append(dict(text=member_names[k], x=px(52), y=py(110 + 18.15 * k),
                            xanchor='left', yanchor='middle',
                            font=dict(size=11.5, color=member_colors[k])))

# hand-drawn legend box, top right inside the plot
shapes = [dict(type='rect', x0=px(581), x1=px(762), y0=py(128), y1=py(55),
               line=dict(color='white', width=1), fillcolor='black', layer='above')]
for k in range(4):
    yk = py(70 + 14.5 * k)
    shapes.append(dict(type='line', x0=px(603), x1=px(641), y0=yk, y1=yk,
                       line=dict(color=legend_colors[k], width=4), layer='above'))
    annotations.append(dict(text=legend_names[k], x=px(657), y=yk, xanchor='left',
                            yanchor='middle', font=dict(size=10.5, color='white')))

for a in annotations:
    a.update(xref='paper', yref='paper', showarrow=False)
for s in shapes:
    s.update(xref='paper', yref='paper')

fig.update_layout(
    width=W, height=H,
    margin=dict(l=L - OFF, r=W - (R - OFF), t=T - OFF, b=H - (B - OFF)),
    paper_bgcolor='black', plot_bgcolor='black',
    font=dict(family=FONT, color='white', size=10),
    annotations=annotations, shapes=shapes,
    showlegend=False,
    xaxis=dict(range=[t_all[0], t_all[-1]], tickvals=tick_dates, ticktext=tick_text,
               showgrid=True, gridcolor='#bbbbbb', griddash='2px,6px', gridwidth=1,
               showline=True, linecolor='white', linewidth=2, mirror=True,
               ticks='', zeroline=False, tickfont=dict(size=10.5)),
    yaxis=dict(range=[-30, 30], dtick=5, showgrid=True, gridcolor='#bbbbbb',
               griddash='2px,6px', gridwidth=1, zeroline=False,
               showline=True, linecolor='white', linewidth=2, mirror=True,
               ticks='outside', ticklen=5, tickcolor='white', tickfont=dict(size=10.5)),
    yaxis2=dict(range=[0, 50], dtick=5, overlaying='y', side='right', showgrid=False,
                zeroline=False, showline=True, linecolor='white', linewidth=2,
                ticks='outside', ticklen=5, tickcolor='white', tickfont=dict(size=10.5)),
)

fig.write_html('out.html')
